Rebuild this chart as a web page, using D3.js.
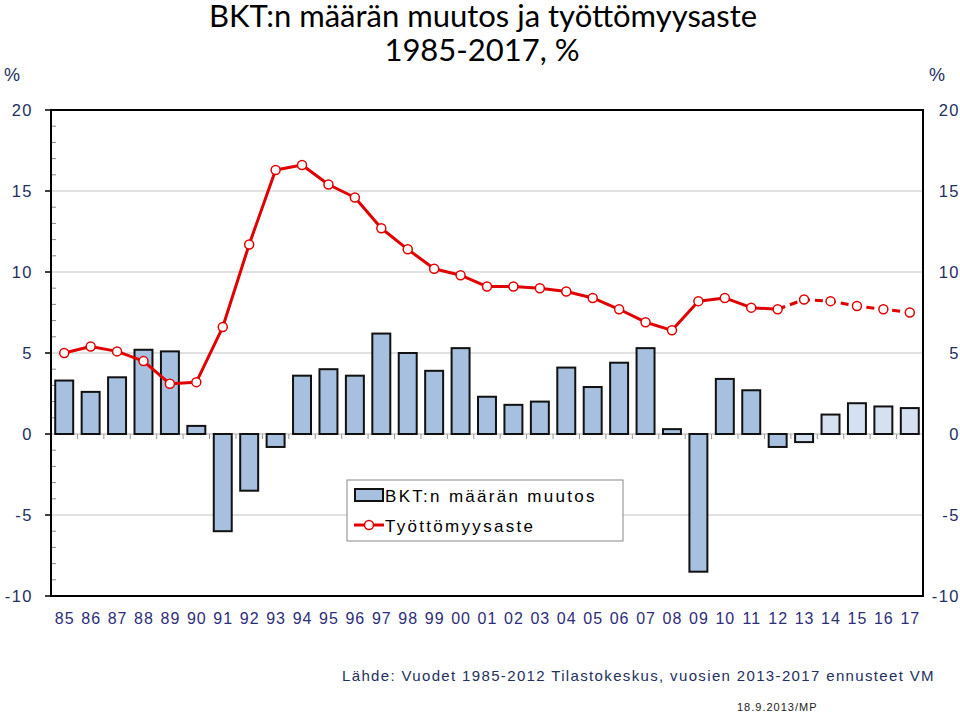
<!DOCTYPE html>
<html>
<head>
<meta charset="utf-8">
<script src="https://cdn.jsdelivr.net/npm/d3@7"></script>
<style>
	body { margin: 0; background: #fff; }
	svg { display: block; }
</style>
</head>
<body>
<div id="chart"></div>
<script>
// Data
var years = ["85","86","87","88","89","90","91","92","93","94","95","96","97","98","99",
	"00","01","02","03","04","05","06","07","08","09","10","11","12","13","14","15","16","17"];
var gdpChange = [3.3, 2.6, 3.5, 5.2, 5.1, 0.5, -6.0, -3.5, -0.8, 3.6, 4.0, 3.6, 6.2, 5.0, 3.9,
	5.3, 2.3, 1.8, 2.0, 4.1, 2.9, 4.4, 5.3, 0.3, -8.5, 3.4, 2.7, -0.8, -0.5, 1.2, 1.9, 1.7, 1.6];
var unemployment = [5.0, 5.4, 5.1, 4.5, 3.1, 3.2, 6.6, 11.7, 16.3, 16.6, 15.4, 14.6, 12.7, 11.4, 10.2,
	9.8, 9.1, 9.1, 9.0, 8.8, 8.4, 7.7, 6.9, 6.4, 8.2, 8.4, 7.8, 7.7, 8.3, 8.2, 7.9, 7.7, 7.5];
var firstForecast = "13";	// 2013-2017 are forecasts
var yTicks = [20, 15, 10, 5, 0, -5, -10];

var W = 960, H = 717;
var margin = { left: 51, right: 37, top: 110, bottom: 121 };
var navy = "#22305e";
var labelColor = "#2e2d78";

var svg = d3.select("#chart").append("svg")
	.attr("width", W)
	.attr("height", H)
	.style("font-family", "'Liberation Sans', Arial, sans-serif");

var xScale = d3.scaleBand()
	.domain(years)
	.range([margin.left, W - margin.right])
	.paddingInner(0.32)
	.paddingOuter(0.16);

var yScale = d3.scaleLinear()
	.domain([-10, 20])
	.range([H - margin.bottom, margin.top]);

var x0 = margin.left, x1 = W - margin.right;
var forecastIndex = years.indexOf(firstForecast);

// Title:
var title = svg.append("g")
	.attr("font-family", "Lato, 'Open Sans', sans-serif")
	.attr("font-size", "31px")
	.attr("fill", "#000")
	.attr("text-anchor", "middle");
title.append("text").attr("x", 483).attr("y", 27).text("BKT:n määrän muutos ja työttömyysaste");
title.append("text").attr("x", 482).attr("y", 61).text("1985-2017, %");

// Unit labels:
svg.append("text").attr("x", 4).attr("y", 81)
	.attr("font-size", "18px").attr("fill", navy).text("%");
svg.append("text").attr("x", 929).attr("y", 81)
	.attr("font-size", "18px").attr("fill", navy).text("%");

// Gridlines:
svg.append("g")
	.selectAll("line")
	.data(yTicks.filter(function(d){ return d != 20 && d != -10 && d != 0; }))
	.enter()
	.append("line")
	.attr("x1", x0).attr("x2", x1)
	.attr("y1", function(d){ return yScale(d); })
	.attr("y2", function(d){ return yScale(d); })
	.attr("stroke", "#c4c4c4")
	.attr("stroke-width", 1.2);

// Zero line and category ticks:
svg.append("line")
	.attr("x1", x0).attr("x2", x1)
	.attr("y1", yScale(0)).attr("y2", yScale(0))
	.attr("stroke", "#b0b0b0")
	.attr("stroke-width", 1.2);

svg.append("g")
	.selectAll("line")
	.data(years.slice(1))
	.enter()
	.append("line")
	.attr("x1", function(d){ return xScale(d) - xScale.step() * xScale.paddingInner() / 2; })
	.attr("x2", function(d){ return xScale(d) - xScale.step() * xScale.paddingInner() / 2; })
	.attr("y1", yScale(0))
	.attr("y2", yScale(0) + 5)
	.attr("stroke", "#999")
	.attr("stroke-width", 1);

// Minor ticks on left axis (inside):
svg.append("g")
	.selectAll("line")
	.data(d3.range(-10, 21, 1).filter(function(d){ return d % 5 != 0; }))
	.enter()
	.append("line")
	.attr("x1", x0).attr("x2", x0 + 5)
	.attr("y1", function(d){ return yScale(d); })
	.attr("y2", function(d){ return yScale(d); })
	.attr("stroke", "#888")
	.attr("stroke-width", 1);

// Bars:
svg.append("g")
	.selectAll("rect")
	.data(years)
	.enter()
	.append("rect")
	.attr("x", function(d){ return xScale(d); })
	.attr("y", function(d, i){ return yScale(Math.max(0, gdpChange[i])); })
	.attr("width", xScale.bandwidth())
	.attr("height", function(d, i){ return Math.abs(yScale(gdpChange[i]) - yScale(0)); })
	.attr("fill", function(d, i){ return i >= forecastIndex ? "#d5e0f1" : "#a8c0e0"; })
	.attr("stroke", "#111")
	.attr("stroke-width", 2);

// Unemployment line:
var line = d3.line()
	.x(function(d){ return xScale(d[0]) + xScale.bandwidth() / 2; })
	.y(function(d){ return yScale(d[1]); });

var points = years.map(function(d, i){ return [d, unemployment[i]]; });

svg.append("path")
	.datum(points.slice(0, forecastIndex))
	.attr("d", line)
	.attr("fill", "none")
	.attr("stroke", "#e00000")
	.attr("stroke-width", 3)
	.attr("stroke-linejoin", "round");

svg.append("path")
	.datum(points.slice(forecastIndex - 1))
	.attr("d", line)
	.attr("fill", "none")
	.attr("stroke", "#e00000")
	.attr("stroke-width", 3)
	.attr("stroke-dasharray", "8,5");

svg.append("g")
	.selectAll("circle")
	.data(points)
	.enter()
	.append("circle")
	.attr("cx", function(d){ return xScale(d[0]) + xScale.bandwidth() / 2; })
	.attr("cy", function(d){ return yScale(d[1]); })
	.attr("r", 4.5)
	.attr("fill", "#fff")
	.attr("stroke", "#e00000")
	.attr("stroke-width", 1.5);

// Frame:
svg.append("rect")
	.attr("x", x0).attr("y", yScale(20))
	.attr("width", x1 - x0)
	.attr("height", yScale(-10) - yScale(20))
	.attr("fill", "none")
	.attr("stroke", "#000")
	.attr("stroke-width", 2);

// Major ticks on left axis (outside):
svg.append("g")
	.selectAll("line")
	.data(yTicks)
	.enter()
	.append("line")
	.attr("x1", x0 - 6).attr("x2", x0)
	.attr("y1", function(d){ return yScale(d); })
	.attr("y2", function(d){ return yScale(d); })
	.attr("stroke", "#000")
	.attr("stroke-width", 1.5);

// Y tick labels, both sides:
function yLabels(xPos) {
	svg.append("g")
		.selectAll("text")
		.data(yTicks)
		.enter()
		.append("text")
		.attr("x", xPos)
		.attr("y", function(d){ return yScale(d) + 6; })
		.attr("text-anchor", "end")
		.attr("font-size", "16.5px")
		.attr("letter-spacing", "1.5px")
		.attr("fill", navy)
		.text(function(d){ return d < 0 ? "-" + Math.abs(d) : d; });
}
yLabels(33);
yLabels(960);

// X labels:
svg.append("g")
	.selectAll("text")
	.data(years)
	.enter()
	.append("text")
	.attr("x", function(d){ return xScale(d) + xScale.bandwidth() / 2 + 0.5; })
	.attr("y", 624)
	.attr("text-anchor", "middle")
	.attr("font-size", "16px")
	.attr("letter-spacing", "1px")
	.attr("fill", labelColor)
	.text(function(d){ return d; });

// Legend:
var legend = svg.append("g");
legend.append("rect")
	.attr("x", 347).attr("y", 480)
	.attr("width", 276).attr("height", 61)
	.attr("fill", "#fff")
	.attr("stroke", "#888")
	.attr("stroke-width", 1);
legend.append("rect")
	.attr("x", 355).attr("y", 489)
	.attr("width", 28).attr("height", 12)
	.attr("fill", "#a8c0e0")
	.attr("stroke", "#111")
	.attr("stroke-width", 2);
legend.append("line")
	.attr("x1", 354).attr("x2", 384)
	.attr("y1", 525).attr("y2", 525)
	.attr("stroke", "#e00000")
	.attr("stroke-width", 3);
legend.append("circle")
	.attr("cx", 369).attr("cy", 525).attr("r", 4.5)
	.attr("fill", "#fff")
	.attr("stroke", "#e00000")
	.attr("stroke-width", 1.5);
legend.append("text")
	.attr("x", 385).attr("y", 502)
	.attr("font-size", "17px").attr("letter-spacing", "2.3px")
	.attr("fill", "#000")
	.text("BKT:n määrän muutos");
legend.append("text")
	.attr("x", 385).attr("y", 532)
	.attr("font-size", "17px").attr("letter-spacing", "2.3px")
	.attr("fill", "#000")
	.text("Työttömyysaste");

// Source:
svg.append("text")
	.attr("x", 342).attr("y", 681)
	.attr("font-size", "15px")
	.attr("letter-spacing", "1.35px")
	.attr("fill", navy)
	.text("Lähde: Vuodet 1985-2012 Tilastokeskus, vuosien 2013-2017 ennusteet VM");

svg.append("text")
	.attr("x", 737).attr("y", 711)
	.attr("font-size", "11px")
	.attr("letter-spacing", "1px")
	.attr("fill", "#222")
	.text("18.9.2013/MP");
</script>
</body>
</html>
